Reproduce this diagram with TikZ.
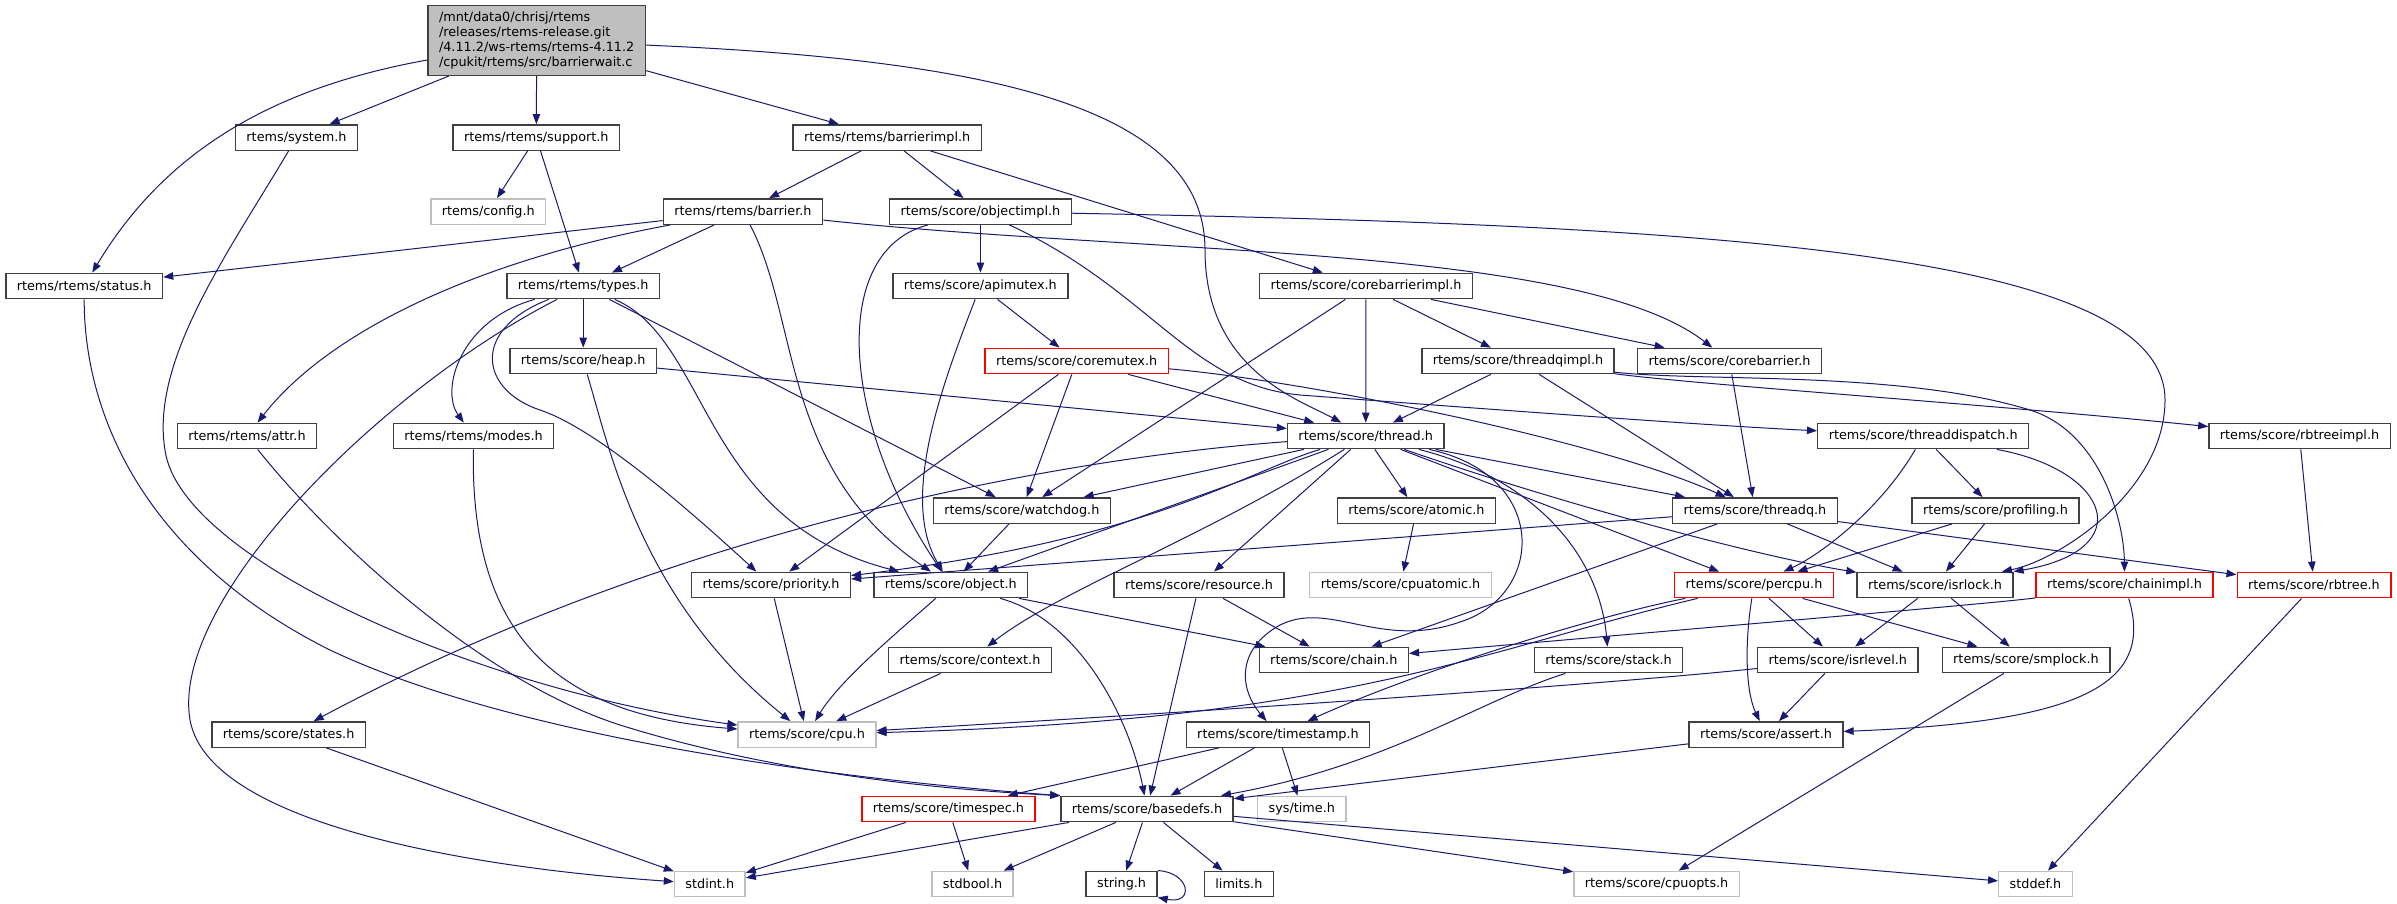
\documentclass[tikz,border=0pt]{standalone}
\usepackage{fontspec}
\setmainfont{DejaVu Sans}
\usepackage{xcolor}
\usepackage{tikz}
\usetikzlibrary{arrows.meta}

\definecolor{incblue}{HTML}{191970}
\definecolor{filegray}{HTML}{BFBFBF}
\definecolor{fileline}{HTML}{404040}

\begin{document}
\begin{tikzpicture}[->,>={Triangle[length=10pt,width=7.5pt]},x=1pt,y=1pt,line width=1pt,incblue]
  \tikzstyle{hfile}=[draw=fileline, fill=white, text=black, line width=1.4pt, inner xsep=11pt, inner ysep=0pt, minimum height=25.4pt, font=\fontsize{12.8}{14.8}\selectfont]
  \tikzstyle{sysfile}=[hfile, draw=filegray]
  \tikzstyle{cutfile}=[hfile, draw=red]
  \tikzstyle{srcfile}=[hfile, fill=filegray, align=left, minimum height=69.6pt]
  \useasboundingbox (0,0) rectangle (2397,-903);

  % the source file and its direct includes
  \node[srcfile] (root) at (536.7,-40.5) {/mnt/data0/chrisj/rtems\\/releases/rtems-release.git\\/4.11.2/ws-rtems/rtems-4.11.2\\/cpukit/rtems/src/barrierwait.c};
  \node[hfile]   (system)          at (296.5,-137.5)  {rtems/system.h};
  \node[hfile]   (support)         at (536.3,-137.5)  {rtems/rtems/support.h};
  \node[hfile]   (barrierimpl)     at (887.2,-137.5)  {rtems/rtems/barrierimpl.h};
  \node[sysfile] (config)          at (488.3,-211.5)  {rtems/config.h};
  \node[hfile]   (barrier)         at (743,-211.5)    {rtems/rtems/barrier.h};
  \node[hfile]   (objectimpl)      at (980.4,-211.5)  {rtems/score/objectimpl.h};
  \node[hfile]   (status)          at (84.2,-286)     {rtems/rtems/status.h};
  \node[hfile]   (types)           at (583.2,-286)    {rtems/rtems/types.h};
  \node[hfile]   (apimutex)        at (980.4,-286)    {rtems/score/apimutex.h};
  \node[hfile]   (corebarrierimpl) at (1366,-286)     {rtems/score/corebarrierimpl.h};
  \node[hfile]   (heap)            at (583.2,-361)    {rtems/score/heap.h};
  \node[cutfile] (coremutex)       at (1076.7,-361)   {rtems/score/coremutex.h};
  \node[hfile]   (threadqimpl)     at (1518,-361)     {rtems/score/threadqimpl.h};
  \node[hfile]   (corebarrier)     at (1729.5,-361)   {rtems/score/corebarrier.h};
  \node[hfile]   (attr)            at (247,-436)      {rtems/rtems/attr.h};
  \node[hfile]   (modes)           at (473.6,-436)    {rtems/rtems/modes.h};
  \node[hfile]   (thread)          at (1365.7,-436)   {rtems/score/thread.h};
  \node[hfile]   (threaddispatch)  at (1923.2,-436)   {rtems/score/threaddispatch.h};
  \node[hfile]   (rbtreeimpl)      at (2299.5,-436)   {rtems/score/rbtreeimpl.h};
  \node[hfile]   (watchdog)        at (1021.8,-510.5) {rtems/score/watchdog.h};
  \node[hfile]   (atomic)          at (1416.4,-510.5) {rtems/score/atomic.h};
  \node[hfile]   (threadq)         at (1755,-510.5)   {rtems/score/threadq.h};
  \node[hfile]   (profiling)       at (1995.4,-510.5) {rtems/score/profiling.h};
  \node[hfile]   (priority)        at (771,-585)      {rtems/score/priority.h};
  \node[hfile]   (object)          at (950.8,-585)    {rtems/score/object.h};
  \node[hfile]   (resource)        at (1199,-585)     {rtems/score/resource.h};
  \node[sysfile] (cpuatomic)       at (1400.5,-585)   {rtems/score/cpuatomic.h};
  \node[cutfile] (percpu)          at (1754,-585)     {rtems/score/percpu.h};
  \node[hfile]   (isrlock)         at (1935,-585)     {rtems/score/isrlock.h};
  \node[cutfile] (chainimpl)       at (2124.6,-585)   {rtems/score/chainimpl.h};
  \node[cutfile] (rbtree)          at (2314,-585)     {rtems/score/rbtree.h};
  \node[hfile]   (context)         at (970,-660)      {rtems/score/context.h};
  \node[hfile]   (chain)           at (1333.8,-660)   {rtems/score/chain.h};
  \node[hfile]   (stack)           at (1608.5,-660)   {rtems/score/stack.h};
  \node[hfile]   (isrlevel)        at (1837.8,-660)   {rtems/score/isrlevel.h};
  \node[hfile]   (smplock)         at (2026,-660)     {rtems/score/smplock.h};
  \node[hfile]   (states)          at (288.6,-734.5)  {rtems/score/states.h};
  \node[sysfile] (cpu)             at (807,-734.5)    {rtems/score/cpu.h};
  \node[hfile]   (timestamp)       at (1278,-734.5)   {rtems/score/timestamp.h};
  \node[hfile]   (assert)          at (1766,-734.5)   {rtems/score/assert.h};
  \node[cutfile] (timespec)        at (948.5,-809)    {rtems/score/timespec.h};
  \node[hfile]   (basedefs)        at (1147,-809)     {rtems/score/basedefs.h};
  \node[sysfile] (systime)         at (1301.8,-809)   {sys/time.h};
  \node[sysfile] (stdint)          at (709.8,-884)    {stdint.h};
  \node[sysfile] (stdbool)         at (972.5,-884)    {stdbool.h};
  \node[hfile]   (string)          at (1121.6,-884)   {string.h};
  \node[hfile]   (limits)          at (1238.9,-884)   {limits.h};
  \node[sysfile] (cpuopts)         at (1656.6,-884)   {rtems/score/cpuopts.h};
  \node[sysfile] (stddef)          at (2035.5,-884)   {stddef.h};

  % straight includes
  \path
    (root) edge (system)
    (root) edge (support)
    (root) edge (barrierimpl)
    (support) edge (config)
    (support) edge (types)
    (barrierimpl) edge (barrier)
    (barrierimpl) edge (objectimpl)
    (barrierimpl) edge (corebarrierimpl)
    (barrier) edge (status)
    (barrier) edge (types)
    (objectimpl) edge (apimutex)
    (types) edge (heap)
    (types) edge (watchdog)
    (apimutex) edge (coremutex)
    (corebarrierimpl) edge (watchdog)
    (corebarrierimpl) edge (thread)
    (corebarrierimpl) edge (threadqimpl)
    (corebarrierimpl) edge (corebarrier)
    (heap) edge (thread)
    (coremutex) edge (thread)
    (coremutex) edge (priority)
    (coremutex) edge (watchdog)
    (threadqimpl) edge (thread)
    (threadqimpl) edge (threadq)
    (corebarrier) edge (threadq)
    (thread) edge (watchdog)
    (thread) edge (object)
    (thread) edge (resource)
    (thread) edge (atomic)
    (thread) edge (threadq)
    (thread) edge (percpu)
    (threaddispatch) edge (profiling)
    (rbtreeimpl) edge (rbtree)
    (watchdog) edge (object)
    (atomic) edge (cpuatomic)
    (threadq) edge (priority)
    (threadq) edge (chain)
    (threadq) edge (isrlock)
    (threadq) edge (rbtree)
    (profiling) edge (percpu)
    (profiling) edge (isrlock)
    (priority) edge (cpu)
    (object) edge (chain)
    (resource) edge (chain)
    (resource) edge (basedefs)
    (percpu) edge (isrlevel)
    (percpu) edge (smplock)
    (isrlock) edge (isrlevel)
    (isrlock) edge (smplock)
    (rbtree) edge (stddef)
    (context) edge (cpu)
    (isrlevel) edge (assert)
    (smplock) edge (cpuopts)
    (states) edge (stdint)
    (timestamp) edge (timespec)
    (timestamp) edge (basedefs)
    (timestamp) edge (systime)
    (assert) edge (basedefs)
    (timespec) edge (stdint)
    (timespec) edge (stdbool)
    (basedefs) edge (stdint)
    (basedefs) edge (stdbool)
    (basedefs) edge (string)
    (basedefs) edge (limits)
    (basedefs) edge (cpuopts)
    (basedefs) edge (stddef);

  % curved includes
  \draw (root) .. controls (260,-90) and (160,-160) .. (status);
  \draw (root) .. controls (1000,-60) and (1205,-110) .. (1205,-250) .. controls (1205,-370) and (1300,-400) .. (thread);
  \draw (system) .. controls (230,-250) and (150,-360) .. (165,-450) .. controls (180,-560) and (480,-690) .. (cpu);
  \draw (status) .. controls (84,-420) and (150,-560) .. (330,-650) .. controls (520,-740) and (850,-780) .. (basedefs.north west);
  \draw (attr) .. controls (330,-540) and (480,-680) .. (620,-725) .. controls (780,-775) and (950,-790) .. (basedefs.north west);
  \draw (modes) .. controls (470,-640) and (560,-715) .. (cpu);
  \draw (types) .. controls (380,-390) and (170,-600) .. (190,-720) .. controls (210,-830) and (500,-870) .. (stdint);
  \draw (types) .. controls (460,-320) and (440,-390) .. (modes);
  \draw (types) .. controls (470,-330) and (480,-390) .. (540,-410) .. controls (600,-430) and (700,-520) .. (priority);
  \draw (types) .. controls (710,-340) and (700,-520) .. (object);
  \draw (barrier) .. controls (480,-260) and (330,-330) .. (attr);
  \draw (barrier) .. controls (800,-320) and (780,-470) .. (object);
  \draw (barrier) .. controls (1150,-255) and (1580,-245) .. (corebarrier);
  \draw (objectimpl) .. controls (830,-250) and (840,-420) .. (object);
  \draw (objectimpl) .. controls (1700,-225) and (2165,-250) .. (2165,-400) .. controls (2165,-490) and (2060,-560) .. (isrlock);
  \draw (objectimpl) .. controls (1150,-290) and (1190,-385) .. (1300,-395) .. controls (1500,-410) and (1700,-425) .. (threaddispatch);
  \draw (apimutex) .. controls (940,-390) and (900,-500) .. (object);
  \draw (coremutex) .. controls (1300,-380) and (1600,-440) .. (threadq);
  \draw (heap) .. controls (610,-450) and (640,-600) .. (cpu);
  \draw (thread) .. controls (1100,-455) and (700,-515) .. (states);
  \draw (thread) .. controls (1250,-470) and (1150,-540) .. (priority);
  \draw (thread) .. controls (1200,-540) and (1060,-590) .. (context);
  \draw (thread) .. controls (1550,-475) and (1545,-595) .. (1460,-622) .. controls (1380,-650) and (1330,-600) .. (1280,-625) .. controls (1235,-650) and (1240,-690) .. (timestamp);
  \draw (thread) .. controls (1540,-480) and (1600,-560) .. (stack);
  \draw (thread) .. controls (1550,-500) and (1750,-555) .. (isrlock);
  \draw (threaddispatch) .. controls (1880,-510) and (1820,-555) .. (percpu);
  \draw (threaddispatch) .. controls (2110,-470) and (2140,-550) .. (isrlock);
  \draw (threadqimpl) .. controls (1700,-382) and (1900,-370) .. (2030,-410) .. controls (2100,-432) and (2124,-520) .. (chainimpl);
  \draw (threadqimpl) .. controls (1700,-385) and (2000,-405) .. (rbtreeimpl);
  \draw (percpu) .. controls (1480,-650) and (1350,-720) .. (cpu);
  \draw (isrlevel) .. controls (1600,-685) and (1200,-712) .. (cpu);
  \draw (percpu) .. controls (1600,-615) and (1420,-670) .. (timestamp);
  \draw (percpu) .. controls (1745,-640) and (1745,-690) .. (assert);
  \draw (chainimpl) .. controls (2000,-603) and (1700,-628) .. (chain);
  \draw (chainimpl) .. controls (2155,-685) and (2080,-722) .. (assert);
  \draw (object) .. controls (900,-630) and (840,-680) .. (cpu);
  \draw (object) .. controls (1080,-620) and (1130,-720) .. (basedefs);
  \draw (stack) .. controls (1480,-700) and (1390,-765) .. (basedefs);
  \draw (string.north east) .. controls (1190,-872) and (1195,-905) .. (string.south east);
\end{tikzpicture}
\end{document}
